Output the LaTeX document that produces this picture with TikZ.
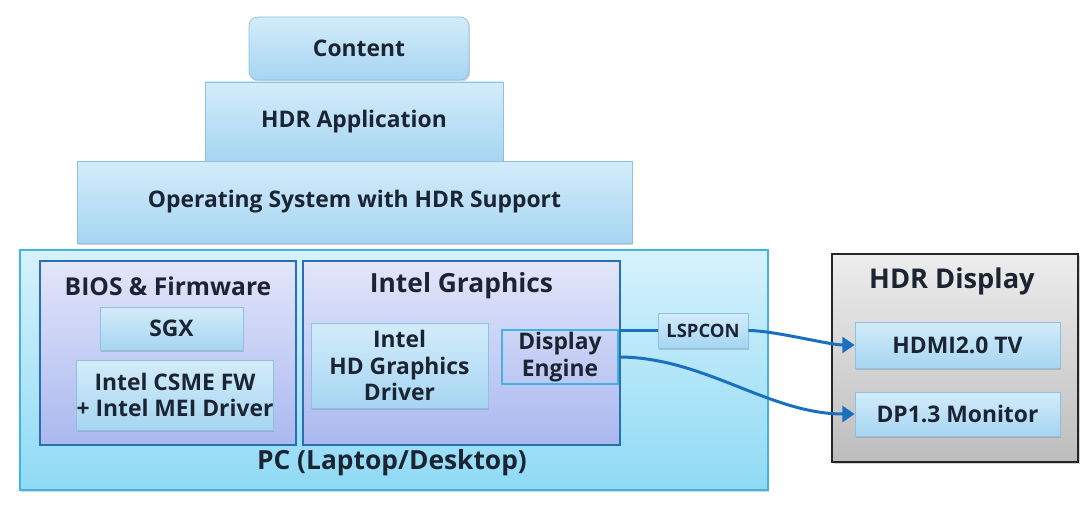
\documentclass[tikz,border=0pt]{standalone}
\usepackage{fontspec}
\setmainfont{Open Sans}
\usepackage{tikz}
\usetikzlibrary{arrows.meta,shadows}
\definecolor{ink}{HTML}{1B2433}
\definecolor{wire}{HTML}{1A6FC0}
\definecolor{layertop}{HTML}{D3ECFA}
\definecolor{layerbot}{HTML}{A6D5F2}
\definecolor{layerline}{HTML}{8EC0E0}
\definecolor{grouptop}{HTML}{E2E6FA}
\definecolor{groupbot}{HTML}{AAB8EF}
\definecolor{groupline}{HTML}{2A6FB5}
\definecolor{pctop}{HTML}{D6F2FC}
\definecolor{pcbot}{HTML}{8FDAF4}
\definecolor{pcline}{HTML}{3FB4E0}

\begin{document}
\begin{tikzpicture}[
    layer/.style={rectangle, draw=layerline, top color=layertop, bottom color=layerbot,
        drop shadow={opacity=0.35, shadow xshift=0.6pt, shadow yshift=-0.9pt}, text=ink, font=\bfseries\fontsize{13}{15}\selectfont, align=center, inner sep=0pt},
    group/.style={rectangle, draw=groupline, line width=1.1pt, top color=grouptop, bottom color=groupbot, inner sep=0pt},
    title/.style={text=ink, font=\bfseries\fontsize{15}{17}\selectfont},
    wirearrow/.style={draw=wire, line width=1.7pt, -{Triangle[length=7pt, width=9pt]}}
]
        \useasboundingbox (0, 0) rectangle (21.84, 10.18);
        % software stack
        \node[layer, rounded corners=5pt, minimum width=4.4cm, minimum height=1.26cm] (content) at (7.18, 9.21) {Content};
        \node[layer, minimum width=5.96cm, minimum height=1.58cm] (app) at (7.08, 7.75) {HDR Application};
        \node[layer, minimum width=11.1cm, minimum height=1.64cm] (os) at (7.09, 6.14) {Operating System with HDR Support};

        % PC platform
        \node[rectangle, draw=pcline, line width=0.8pt, top color=pctop, bottom color=pcbot,
            drop shadow={opacity=0.3, shadow xshift=0.8pt, shadow yshift=-1pt}, minimum width=14.96cm, minimum height=4.8cm] (pc) at (7.88, 2.78) {};
        \node[title] (pclabel) at (7.84, 0.92) {PC (Laptop/Desktop)};

        \node[group, minimum width=5.12cm, minimum height=3.68cm] (bios) at (3.36, 3.12) {};
        \node[title, font=\bfseries\fontsize{14}{16}\selectfont] (biostitle) at (3.36, 4.46) {BIOS \& Firmware};
        \node[layer, minimum width=2.86cm, minimum height=0.86cm] (sgx) at (3.43, 3.61) {SGX};
        \node[layer, minimum width=3.88cm, minimum height=1.4cm] (csme) at (3.5, 2.28) {Intel CSME FW\\+ Intel MEI Driver};

        \node[group, minimum width=6.34cm, minimum height=3.68cm] (gfx) at (9.23, 3.12) {};
        \node[title] (gfxtitle) at (9.23, 4.46) {Intel Graphics};
        \node[layer, minimum width=3.54cm, minimum height=1.7cm] (driver) at (7.99, 2.87) {Intel\\HD Graphics\\Driver};
        \node[rectangle, draw=pcline, line width=0.6pt, text=ink, align=center, inner sep=0pt,
            font=\bfseries\fontsize{13}{15}\selectfont, minimum width=2.32cm, minimum height=1.08cm] (engine) at (11.2, 3.04) {Display\\Engine};

        \node[layer, font=\bfseries\fontsize{10.5}{12}\selectfont, minimum width=1.8cm, minimum height=0.7cm] (lspcon) at (14.06, 3.57) {LSPCON};

        % display side
        \node[rectangle, draw=black!85, line width=1.3pt, top color=black!7, bottom color=black!26,
            drop shadow={opacity=0.35, shadow xshift=1pt, shadow yshift=-1.2pt}, minimum width=4.92cm, minimum height=4.16cm] (display) at (19.1, 3.02) {};
        \node[title, font=\bfseries\fontsize{15.5}{17}\selectfont] (displaytitle) at (19.04, 4.56) {HDR Display};
        \node[layer, minimum width=4.1cm, minimum height=0.92cm] (hdmi) at (19.15, 3.28) {HDMI2.0 TV};
        \node[layer, minimum width=4.1cm, minimum height=0.88cm] (dp) at (19.15, 1.9) {DP1.3 Monitor};

        % connections
        \draw[draw=wire, line width=1.7pt] (engine.east |- lspcon) -- (lspcon.west);
        \draw[wirearrow] (lspcon.east) to[out=0, in=180, looseness=0.6] (hdmi.west);
        \draw[wirearrow] (engine.east) to[out=0, in=180, looseness=0.9] (dp.west);
    \end{tikzpicture}
\end{document}
